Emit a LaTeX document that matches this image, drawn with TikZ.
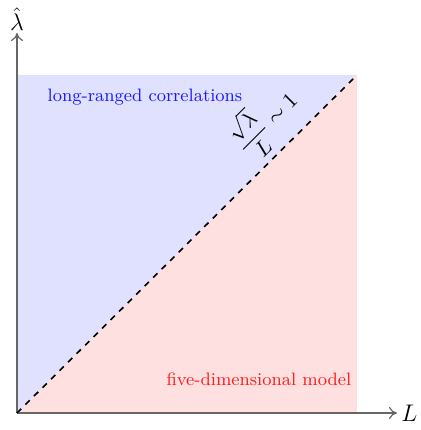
\documentclass[tikz,border=0pt]{standalone}
\usetikzlibrary{arrows.meta}
\begin{document}
\begin{tikzpicture}[x=0.5pt,y=-0.5pt,
  axis/.style={draw=black!60,line width=0.6pt,-{To[length=4pt,width=6pt]}},
  lbl/.style={font=\small,inner sep=0pt}]
\useasboundingbox (0,0) rectangle (421,430);
\coordinate (O) at (17,413);
\coordinate (TL) at (17,75);
\coordinate (TR) at (357,75);
\coordinate (BR) at (357,413);
\fill[blue!12] (O) -- (TL) -- (TR) -- cycle;
\fill[red!12] (O) -- (TR) -- (BR) -- cycle;
\coordinate (xend) at (397,413);
\coordinate (yend) at (17,33);
\draw[axis] (O) -- (xend);
\draw[axis] (O) -- (yend);
\node[anchor=west,inner sep=2pt,font=\large] (Lx) at (xend) {$L$};
\node[anchor=south,inner sep=1pt,font=\large] (ly) at (yend) {$\hat{\lambda}$};
\draw[dashed,line width=0.8pt] (O) -- (TR);
\node[lbl,text=blue!90] (lr) at (145,97) {long-ranged correlations};
\node[lbl,text=red!90] (fd) at (259,379) {five-dimensional model};
\node[rotate=45,inner sep=0pt,font=\fontsize{11}{13}\selectfont] (cond) at (265,121) {$\displaystyle\frac{\sqrt{\lambda}}{L}\sim 1$};
\end{tikzpicture}
\end{document}
